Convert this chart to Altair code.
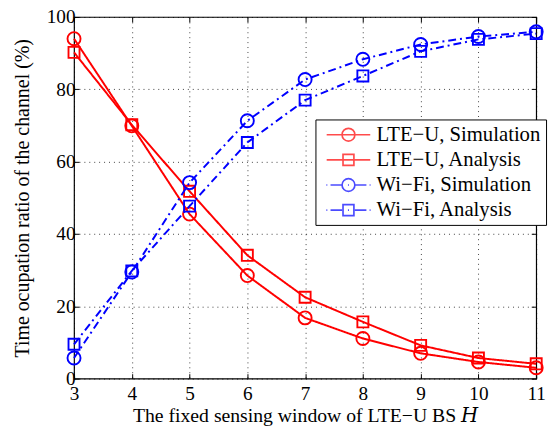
import altair as alt
import pandas as pd

# ---- data ----
window_h = [3, 4, 5, 6, 7, 8, 9, 10, 11]
lte_sim = [94.0, 69.9, 45.5, 28.5, 16.8, 11.1, 7.0, 4.6, 3.0]
lte_ana = [90.2, 70.2, 51.8, 34.1, 22.5, 15.7, 9.2, 5.7, 4.1]
wifi_sim = [5.7, 29.5, 54.2, 71.3, 82.7, 88.3, 92.4, 94.6, 95.9]
wifi_ana = [9.5, 29.8, 47.7, 65.3, 77.0, 83.7, 90.5, 93.8, 95.4]

series_names = ["LTE\u2212U, Simulation", "LTE\u2212U, Analysis",
                "Wi\u2212Fi, Simulation", "Wi\u2212Fi, Analysis"]
series_values = [lte_sim, lte_ana, wifi_sim, wifi_ana]
series_markers = ["circle", "square", "circle", "square"]
series_colors = ["#FF0000", "#FF0000", "#0000FF", "#0000FF"]
series_dash = [[1, 0], [1, 0], [8, 4, 2, 4], [8, 4, 2, 4]]

x_ticks = [3, 4, 5, 6, 7, 8, 9, 10, 11]
y_ticks = [0, 20, 40, 60, 80, 100]

rows = []
for name, vals, mk in zip(series_names, series_values, series_markers):
    for h, v in zip(window_h, vals):
        rows.append({"H": h, "ratio": v, "series": name, "marker": mk})
df = pd.DataFrame(rows)

FONT = "Liberation Serif"
TITLE_FONT = "Liberation Serif, DejaVu Serif, serif"

# legend symbols: line through marker (MATLAB style)
circ = "M-1,0A1,1 0 1,0 1,0A1,1 0 1,0 -1,0"
sq = "M-0.85,-0.85H0.85V0.85H-0.85Z"
solid = "M-3.4,0H3.4"
dashdot = "M-3.45,0H-3.3M-2.8,0H-1M-0.08,0H0.08M1,0H2.8M3.3,0H3.45"
legend_paths = [solid + circ, solid + sq, dashdot + circ, dashdot + sq]

xs = alt.Scale(domain=[3, 11], nice=False, zero=False)
ys = alt.Scale(domain=[0, 100], nice=False)

legend = alt.Legend(
    orient="none", legendX=245, legendY=104, title=None,
    labelFont=FONT, labelFontSize=21, labelColor="black", labelLimit=400,
    symbolSize=169, symbolStrokeWidth=1.7, symbolFillColor="transparent",
    strokeColor="black", fillColor="white", padding=5, rowPadding=3.5,
    symbolOffset=18, labelOffset=18,
)

base = alt.Chart(df)

x_bottom = alt.Axis(
    orient="bottom", values=x_ticks, format="d", offset=-5, tickSize=5,
    tickColor="black", domain=False, grid=True, gridColor="black",
    gridOpacity=0.75, gridDash=[1, 4], labelFont=FONT, labelFontSize=19.5,
    labelColor="black", labelPadding=6, labelFlush=False,
    title="The fixed sensing window of LTE\u2212U BS \U0001D43B",
    titleFont=TITLE_FONT, titleFontSize=20, titleFontWeight="normal",
    titleColor="black", titleX=234.5, titleY=48, titleAlign="center",
    titleBaseline="alphabetic",
)
y_left = alt.Axis(
    orient="left", values=y_ticks, offset=-5, tickSize=5, tickColor="black",
    domain=False, grid=True, gridColor="black", gridOpacity=0.75,
    gridDash=[1, 4], labelFont=FONT, labelFontSize=19.5, labelColor="black",
    labelPadding=-1, labelFlush=False,
    title="Time ocupation ratio of the channel (%)",
    titleFont=TITLE_FONT, titleFontSize=20.2, titleFontWeight="normal",
    titleColor="black", titleX=-51, titleY=183.5, titleAngle=270,
    titleAlign="center", titleBaseline="alphabetic",
)
x_top = alt.Axis(orient="top", values=x_ticks, offset=-5, tickSize=5,
                 tickColor="black", domain=False, grid=False, labels=False,
                 title=None)
y_right = alt.Axis(orient="right", values=y_ticks, offset=-5, tickSize=5,
                   tickColor="black", domain=False, grid=False, labels=False,
                   title=None)

# legend layer first (empty data, explicit domains)
legend_layer = base.mark_point(filled=False, strokeWidth=1.7).transform_filter(
    "false").encode(
    x=alt.X("H:Q", scale=xs, axis=x_bottom),
    y=alt.Y("ratio:Q", scale=ys, axis=y_left),
    color=alt.Color("series:N",
                    scale=alt.Scale(domain=series_names, range=series_colors),
                    legend=legend),
    shape=alt.Shape("series:N",
                    scale=alt.Scale(domain=series_names, range=legend_paths),
                    legend=legend),
)

ticks_layer = base.mark_point(opacity=0).transform_filter("false").encode(
    x=alt.X("H:Q", scale=xs, axis=x_top),
    y=alt.Y("ratio:Q", scale=ys, axis=y_right),
)

layers = [legend_layer, ticks_layer]
for name, mk, col, dash in zip(series_names, series_markers, series_colors,
                               series_dash):
    sub = base.transform_filter(alt.datum.series == name)
    layers.append(
        sub.mark_line(strokeWidth=2, color=col, strokeDash=dash).encode(
            x=alt.X("H:Q", scale=xs, axis=None),
            y=alt.Y("ratio:Q", scale=ys, axis=None),
        )
    )
    layers.append(
        sub.mark_point(shape=mk, filled=False,
                       size=175 if mk == "circle" else 125,
                       strokeWidth=1.9, color=col, opacity=1).encode(
            x=alt.X("H:Q", scale=xs, axis=None),
            y=alt.Y("ratio:Q", scale=ys, axis=None),
        )
    )

chart = alt.layer(*layers).resolve_axis(
    x="independent", y="independent"
).properties(
    width=469, height=367,
    padding={"left": 67, "top": 6, "right": 13, "bottom": 49},
    autosize=alt.AutoSizeParams(type="none"),
    background="white",
).configure_view(stroke="black", strokeWidth=1.2)

chart.save("out.html", embed_options={"renderer": "svg", "actions": False})
